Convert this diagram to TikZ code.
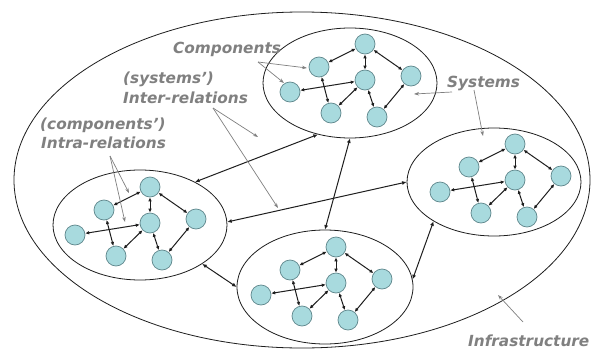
\documentclass[tikz,border=0pt]{standalone}
\usepackage{fontspec}
\setmainfont{DejaVu Sans}
\usetikzlibrary{shapes.geometric,arrows.meta}
\definecolor{nodefill}{RGB}{168,218,222}
\definecolor{nodedraw}{RGB}{95,135,140}
\definecolor{lbl}{RGB}{128,128,128}
\definecolor{lnk}{RGB}{30,30,30}
\begin{document}
\begin{tikzpicture}[x=1pt,y=-1pt,
  comp/.style={circle, draw=nodedraw, fill=nodefill, minimum size=20pt, inner sep=0pt, line width=0.7pt},
  sys/.style={ellipse, draw=lnk, line width=0.8pt, inner sep=0pt},
  intra/.style={{Latex[length=4pt,width=3.6pt]}-{Latex[length=4pt,width=3.6pt]}, draw=lnk, line width=1pt},
  inter/.style={{Latex[length=4.5pt,width=4pt]}-{Latex[length=4.5pt,width=4pt]}, draw=lnk, line width=1pt},
  lab/.style={font=\fontsize{15.3}{18}\selectfont\bfseries\itshape, text=lbl, inner sep=0pt, anchor=base west},
  pointer/.style={-{Stealth[length=5pt,width=3.5pt]}, draw=lbl, line width=0.7pt}]
\useasboundingbox (0,0) rectangle (600,351);
\fill[white] (0,0) rectangle (600,351);

% infrastructure and systems
\node[sys, minimum width=576pt, minimum height=336pt] (infra) at (302,180) {};
\node[sys, minimum width=174pt, minimum height=110pt] (ST) at (350,83) {};
\node[sys, minimum width=174pt, minimum height=110pt] (SL) at (140,225) {};
\node[sys, minimum width=176pt, minimum height=114pt] (SB) at (325,287) {};
\node[sys, minimum width=174pt, minimum height=108pt] (SR) at (494,182) {};

% components and intra-relations
\foreach \s/\cx/\cy in {T/365/80, L/150/223, B/336/283, R/515/180} {
  \node[comp] (\s3) at (\cx,\cy) {};
  \node[comp] (\s1) at (\cx,\cy-36) {};
  \node[comp] (\s2) at (\cx-46,\cy-13) {};
  \node[comp] (\s4) at (\cx+46,\cy-4) {};
  \node[comp] (\s5) at (\cx-75,\cy+12) {};
  \node[comp] (\s6) at (\cx-34,\cy+33) {};
  \node[comp] (\s7) at (\cx+12,\cy+37) {};
  \foreach \a/\b in {1/2,1/3,1/4,2/6,5/3,6/3,3/7,4/7}
    \draw[intra] (\s\a) -- (\s\b);
}

% inter-relations
\draw[inter] (ST.-122) -- (SL.38);
\draw[inter] (ST.-90) -- (SB.90);
\draw[inter] (SL.2) -- (SR.180);
\draw[inter] (SL.-32) -- (SB.180);
\draw[inter] (SB.5) -- (SR.213);

% labels
\node[lab] (lcomp) at (173,53) {Components};
\node[lab] (lsys1) at (123,83) {(systems’)};
\node[lab] (lsys2) at (123,103) {Inter-relations};
\node[lab] (lcmp1) at (40,129) {(components’)};
\node[lab] (lcmp2) at (41,148) {Intra-relations};
\node[lab] (lsyst) at (447,87) {Systems};
\node[lab] (linfr) at (468,346) {Infrastructure};

% pointers
\coordinate (pc0) at (258,62);
\coordinate (pc1) at (307,68);
\coordinate (pc2) at (284,83);
\coordinate (pi0) at (213,108);
\coordinate (pi1) at (258,137);
\coordinate (pi2) at (278,208);
\coordinate (pa0) at (110,156);
\coordinate (pa1) at (129,193);
\coordinate (pa2) at (125,222);
\coordinate (ps0) at (452,92);
\coordinate (ps1) at (414,94);
\coordinate (ps2) at (474,90);
\coordinate (ps3) at (483,136);
\coordinate (pf0) at (523,322);
\coordinate (pf1) at (498,295);
\draw[pointer] (pc0) -- (pc1);
\draw[pointer] (pc0) -- (pc2);
\draw[pointer] (pi0) -- (pi1);
\draw[pointer] (pi0) -- (pi2);
\draw[pointer] (pa0) -- (pa1);
\draw[pointer] (pa0) -- (pa2);
\draw[pointer] (ps0) -- (ps1);
\draw[pointer] (ps2) -- (ps3);
\draw[pointer] (pf0) -- (pf1);
\end{tikzpicture}
\end{document}
